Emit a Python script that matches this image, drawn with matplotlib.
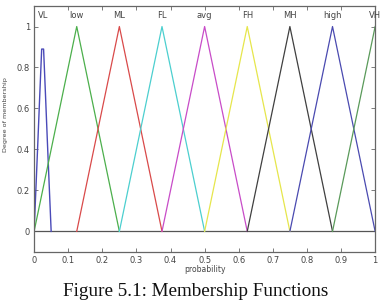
import numpy as np
import matplotlib
matplotlib.use('Agg')
import matplotlib.pyplot as plt

# membership function names and triangle params (left, peak, right)
mf_names = ['low', 'ML', 'FL', 'avg', 'FH', 'MH', 'high', 'VH']
mf_params = [
    [0.0, 0.125, 0.25],
    [0.125, 0.25, 0.375],
    [0.25, 0.375, 0.5],
    [0.375, 0.5, 0.625],
    [0.5, 0.625, 0.75],
    [0.625, 0.75, 0.875],
    [0.75, 0.875, 1.0],
    [0.875, 1.0, 1.0],
]
mf_colors = ['#4caf4c', '#d94a4a', '#4ccfcf', '#c84cc8', '#e6e64c', '#404040', '#4a4ab0', '#5a9a5a']

# VL is very narrow, read point by point
vl_x = [0.0, 0.0056, 0.0111, 0.0167, 0.0222, 0.0278, 0.0333, 0.0389, 0.0444, 0.05]
vl_y = [0.0, 0.22, 0.44, 0.67, 0.89, 0.89, 0.67, 0.44, 0.22, 0.0]
vl_label_x = 0.025

x_ticks = [0, 0.1, 0.2, 0.3, 0.4, 0.5, 0.6, 0.7, 0.8, 0.9, 1]
x_ticklabels = ['0', '0.1', '0.2', '0.3', '0.4', '0.5', '0.6', '0.7', '0.8', '0.9', '1']
y_ticks = [0, 0.2, 0.4, 0.6, 0.8, 1]
y_ticklabels = ['0', '0.2', '0.4', '0.6', '0.8', '1']

txt = '#444444'

fig = plt.figure(figsize=(3.92, 3.02), dpi=100)
ax = fig.add_axes([0.087, 0.166, 0.87, 0.814])

ax.axhline(0, color='#555555', lw=0.9)
ax.plot(vl_x, vl_y, color='#4a4ab8', lw=1.0)
ax.text(vl_label_x, 1.055, 'VL', ha='center', va='center', fontsize=6, color=txt)

for name, p, c in zip(mf_names, mf_params, mf_colors):
    ax.plot(p, [0, 1, 0] if p[1] != p[2] else [0, 1, 1], color=c, lw=0.9)
    ax.text(p[1], 1.055, name, ha='center', va='center', fontsize=6, color=txt)

ax.set_xlim(0, 1)
ax.set_ylim(-0.1, 1.1)
ax.set_xticks(x_ticks)
ax.set_xticklabels(x_ticklabels)
ax.set_yticks(y_ticks)
ax.set_yticklabels(y_ticklabels)
ax.tick_params(direction='in', top=True, right=True, labelsize=6, colors='#666666',
               labelcolor=txt, length=3, width=0.6, pad=3)
for s in ax.spines.values():
    s.set_color('#666666')
    s.set_linewidth(0.9)

ax.set_xlabel('probability', fontsize=5.5, color=txt)
ax.set_ylabel('Degree of membership', fontsize=4.6, color=txt)
ax.xaxis.set_label_coords(0.5, -0.055)
ax.yaxis.set_label_coords(-0.076, 0.56)

fig.text(0.5, 0.005, 'Figure 5.1: Membership Functions', ha='center', va='bottom',
         fontsize=13.8, family='Liberation Serif', color='#111111')

fig.savefig('out.png', dpi=100)
